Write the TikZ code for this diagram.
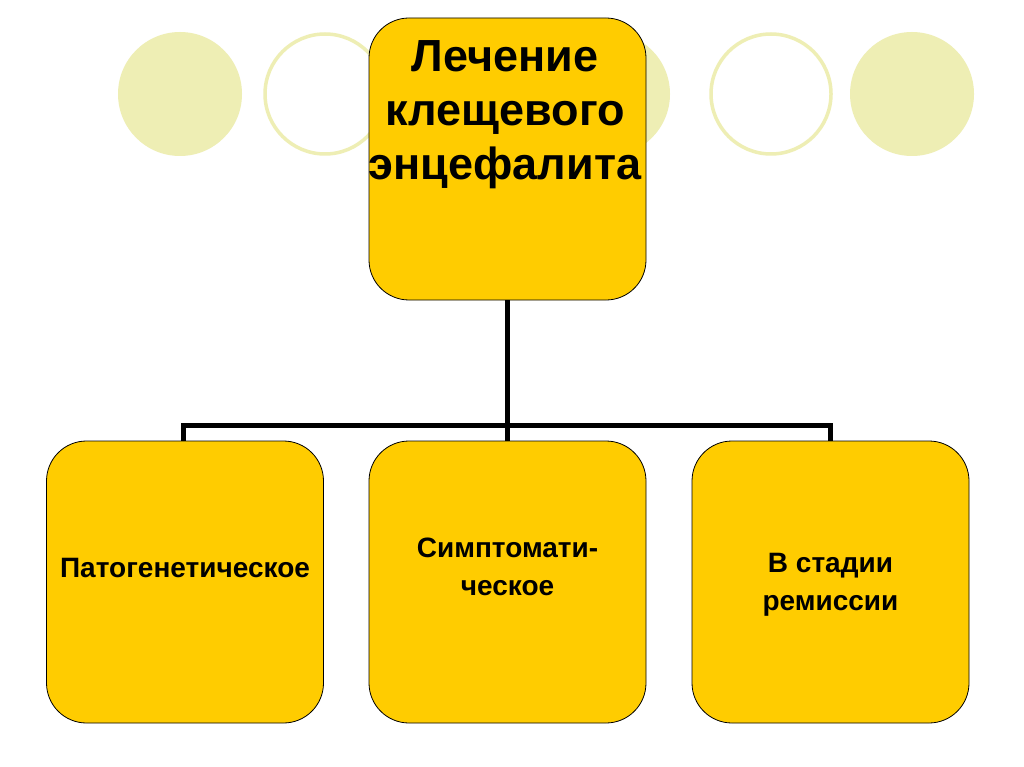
\documentclass[tikz,border=0pt]{standalone}
\usepackage{fontspec}
\setmainfont{Liberation Sans}
\definecolor{boxy}{RGB}{255,204,0}
\definecolor{circ}{RGB}{238,238,180}
\tikzset{
  x=1pt,y=-1pt,
  deco/.style={circle,minimum size=124pt,inner sep=0pt},
  decofill/.style={deco,fill=circ},
  decoring/.style={deco,draw=circ,line width=3.5pt,minimum size=120pt},
  ybox/.style={draw=black,line width=0.8pt,fill=boxy,rounded corners=40pt,minimum width=277pt,minimum height=282pt,inner sep=0pt},
  label/.style={font=\bfseries\fontsize{28}{38}\selectfont,align=center,text=black},
  link/.style={line width=5pt}
}
\begin{document}
\begin{tikzpicture}
\useasboundingbox (0,0) rectangle (1024,767);
\fill[white] (0,0) rectangle (1024,767);
% decorative circles
\node[decofill] (c1) at (180,94) {};
\node[decoring] (c2) at (325,94) {};
\node[decofill] (c3) at (608,94) {};
\node[decoring] (c4) at (771,94) {};
\node[decofill] (c5) at (912,94) {};
% top box
\node[ybox,minimum height=282pt] (top) at (507.5,159) {};
\node[font=\bfseries\fontsize{45}{54}\selectfont,align=center] (toptxt) at (505,115) {Лечение\\клещевого\\энцефалита};
% bottom boxes
\node[ybox] (b1) at (185,582) {};
\node[ybox] (b2) at (507.5,582) {};
\node[ybox] (b3) at (830.5,582) {};
\node[label] (t1) at (185,568) {Патогенетическое};
\node[label] (t2) at (507.5,567) {Симптомати-\\ческое};
\node[label] (t3) at (830.5,585) {В стадии\\ремиссии};
% connectors
\coordinate (j) at (507.5,425);
\draw[link] (top.south) -- (j);
\draw[link] (b1.north -| 183,0) |- (j) -| (b3.north -| 830,0);
\draw[link] (j) -- (b2.north);
\end{tikzpicture}
\end{document}
